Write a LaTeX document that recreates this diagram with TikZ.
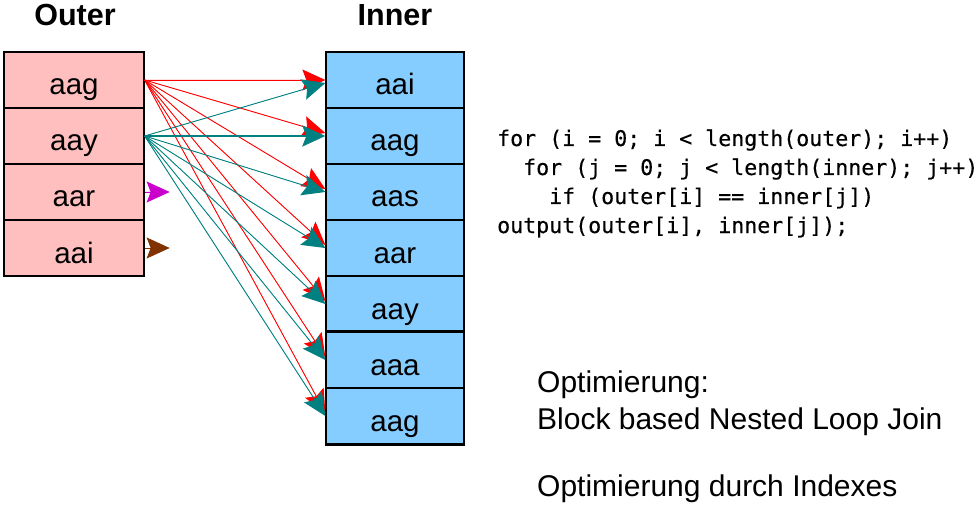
\documentclass[tikz,border=0pt]{standalone}
\usepackage{fontspec}
\setmainfont{Liberation Sans}
\newfontfamily\codefont[FakeBold=0.25]{DejaVu Sans Mono}
\usetikzlibrary{arrows.meta,calc}
\definecolor{outerfill}{RGB}{255,191,191}
\definecolor{innerfill}{RGB}{133,204,255}
\definecolor{tealc}{RGB}{0,128,128}
\definecolor{redc}{RGB}{255,0,0}
\definecolor{magc}{RGB}{204,0,204}
\definecolor{brownc}{RGB}{128,51,0}
\begin{document}
\begin{tikzpicture}[x=1pt,y=-1pt,
  cell/.style={draw=black, line width=1.3pt, minimum height=56pt, inner sep=0pt,
    font=\fontsize{29.5}{30}\selectfont, text height=30pt, text depth=0pt},
  outercell/.style={cell, fill=outerfill, minimum width=140pt},
  innercell/.style={cell, fill=innerfill, minimum width=138pt},
  title/.style={font=\bfseries\fontsize{30.5}{32}\selectfont, anchor=base},
  tipstyle/.style={-{Stealth[length=23pt 0 0,width=21pt 0 0,inset=4pt 0 0]}},
  redarrow/.style={tipstyle, draw=redc, fill=redc, line width=0.9pt},
  tealarrow/.style={tipstyle, draw=tealc, fill=tealc, line width=0.9pt},
  codeline/.style={font=\codefont\fontsize{21.6}{29}\selectfont, anchor=base west, inner sep=0pt},
  note/.style={font=\fontsize{30}{34}\selectfont, anchor=base west, inner sep=0pt}
]
\useasboundingbox (0,0) rectangle (979,505);

\node[title] (tout) at (75,26) {Outer};
\node[title] (tin) at (395,26) {Inner};

\node[outercell] (o1) at (74,80) {aag};
\node[outercell] (o2) at (74,136) {aay};
\node[outercell] (o3) at (74,192) {aar};
\node[outercell] (o4) at (74,248) {aai};

\node[innercell] (i1) at (395,80) {aai};
\node[innercell] (i2) at (395,136) {aag};
\node[innercell] (i3) at (395,192) {aas};
\node[innercell] (i4) at (395,248) {aar};
\node[innercell] (i5) at (395,304) {aay};
\node[innercell] (i6) at (395,360) {aaa};
\node[innercell] (i7) at (395,416) {aag};
\draw[line width=2pt] (i6.north west) -- (i6.north east);
\draw[line width=2pt] (i7.south west) -- (i7.south east);

\foreach \k/\dy in {1/0,2/-3,3/-3,4/-3,5/-3,6/-3,7/-3}
  \draw[redarrow] (o1.east) -- ($(i\k.west)+(0,\dy)$);
\foreach \k/\dy in {1/3,3/0,4/0,5/0,6/0,7/0}
  \draw[tealarrow] (o2.east) -- ($(i\k.west)+(0,\dy)$);
\draw[tealarrow, line width=2.6pt] (o2.east) -- (i2.west);

\coordinate (m) at ($(o3.east)+(25,0)$);
\coordinate (b) at ($(o4.east)+(25,0)$);
\draw[tipstyle, draw=magc, fill=magc, line width=0.9pt] (o3.east) -- (m);
\draw[tipstyle, draw=brownc, fill=brownc, line width=0.9pt] (o4.east) -- (b);

\node[codeline] (c1) at (497,146) {for (i = 0; i < length(outer); i++)};
\node[codeline] (c2) at (523,175) {for (j = 0; j < length(inner); j++)};
\node[codeline] (c3) at (549,204) {if (outer[i] == inner[j])};
\node[codeline] (c4) at (497,233) {output(outer[i], inner[j]);};

\node[note] (n1) at (537,392) {Optimierung:};
\node[note] (n2) at (537,429) {Block based Nested Loop Join};
\node[note] (n3) at (537,496) {Optimierung durch Indexes};
\end{tikzpicture}
\end{document}
